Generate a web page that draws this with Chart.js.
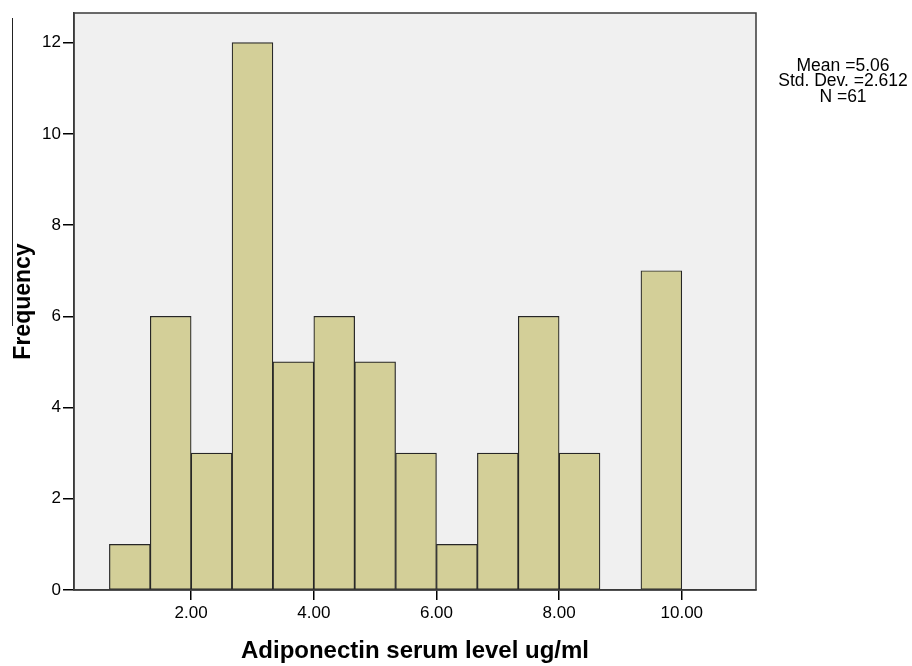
<!DOCTYPE html>
<html>
<head>
<meta charset="utf-8">
<script src="https://cdn.jsdelivr.net/npm/chart.js@4/dist/chart.umd.min.js"></script>
<style>
  html, body { margin: 0; padding: 0; background: #fff; }
  #contenedor { width: 912px; height: 666px; }
</style>
</head>
<body>
<div id="contenedor"><canvas id="histograma"></canvas></div>
<script>
// centros de cada intervalo (ancho 2/3) y sus frecuencias
const binCenters = [1.000, 1.667, 2.333, 3.000, 3.667, 4.333, 5.000, 5.667, 6.333, 7.000, 7.667, 8.333, 9.000, 9.667];
const frequencies = [1, 6, 3, 12, 5, 6, 5, 3, 1, 3, 6, 3, 0, 7];
const xTicks = [2, 4, 6, 8, 10];
const yTicks = [0, 2, 4, 6, 8, 10, 12];
const statsLines = ['Mean =5.06', 'Std. Dev. =2.612', 'N =61'];

const fuente = "'Liberation Sans', Arial, sans-serif";

const marcoPlugin = {
    id: 'marco',
    beforeDraw(chart) {
        const { ctx, chartArea: a } = chart;
        ctx.save();
        ctx.fillStyle = '#f0f0f0';
        ctx.fillRect(a.left, a.top, a.right - a.left, a.bottom - a.top);
        ctx.restore();
    },
    afterDraw(chart) {
        const { ctx, chartArea: a } = chart;
        ctx.save();
        ctx.strokeStyle = '#3a3a3a';
        ctx.lineWidth = 1.5;
        ctx.strokeRect(a.left, a.top, a.right - a.left, a.bottom - a.top);

        // cuadro de estadisticos
        ctx.fillStyle = '#000';
        ctx.font = '17.5px ' + fuente;
        ctx.textAlign = 'center';
        ctx.textBaseline = 'middle';
        statsLines.forEach((t, i) => ctx.fillText(t, 843, 66 + i * 15.5));

        // linea suelta a la izquierda
        ctx.strokeStyle = '#222';
        ctx.lineWidth = 1;
        ctx.beginPath();
        ctx.moveTo(12.5, 18);
        ctx.lineTo(12.5, 326);
        ctx.stroke();
        ctx.restore();
    }
};

const ctx = document.getElementById('histograma').getContext('2d');
const histograma = new Chart(ctx, {
    type: 'bar',
    data: {
        datasets: [{
            label: 'Frequency',
            data: binCenters.map((x, i) => ({ x: x, y: frequencies[i] })),
            backgroundColor: '#d3cf98',
            borderColor: '#262626',
            borderWidth: 1.2,
            borderSkipped: false,
            barPercentage: 1,
            categoryPercentage: 1
        }]
    },
    options: {
        responsive: true,
        maintainAspectRatio: false,
        animation: false,
        layout: { padding: { top: 13, right: 156, left: 0, bottom: 0 } },
        plugins: {
            legend: { display: false },
            tooltip: { enabled: false }
        },
        scales: {
            x: {
                type: 'linear',
                min: 0.09,
                max: 11.21,
                offset: false,
                afterBuildTicks: s => { s.ticks = xTicks.map(v => ({ value: v })); },
                afterFit: s => { s.height = 76; },
                grid: { offset: false, drawOnChartArea: false, drawTicks: true, tickLength: 10, color: '#000', lineWidth: 1.5 },
                border: { display: true, color: '#3a3a3a', width: 1.5 },
                ticks: {
                    color: '#000',
                    padding: 3,
                    font: { family: fuente, size: 17 },
                    callback: v => v.toFixed(2)
                },
                title: {
                    display: true,
                    text: 'Adiponectin serum level ug/ml',
                    color: '#000',
                    font: { family: fuente, size: 24, weight: 'bold' },
                    padding: { top: 1, bottom: 0 }
                }
            },
            y: {
                min: 0,
                max: 12.65,
                afterBuildTicks: s => { s.ticks = yTicks.map(v => ({ value: v })); },
                afterFit: s => { s.width = 74; },
                grid: { drawOnChartArea: false, drawTicks: true, tickLength: 11, color: '#000', lineWidth: 1.5 },
                border: { display: true, color: '#3a3a3a', width: 1.5 },
                ticks: {
                    color: '#000',
                    padding: 2,
                    font: { family: fuente, size: 17 }
                },
                title: {
                    display: true,
                    text: 'Frequency',
                    color: '#000',
                    font: { family: fuente, size: 23, weight: 'bold' },
                    padding: { top: 10, bottom: 0 }
                }
            }
        }
    },
    plugins: [marcoPlugin]
});
</script>
</body>
</html>
